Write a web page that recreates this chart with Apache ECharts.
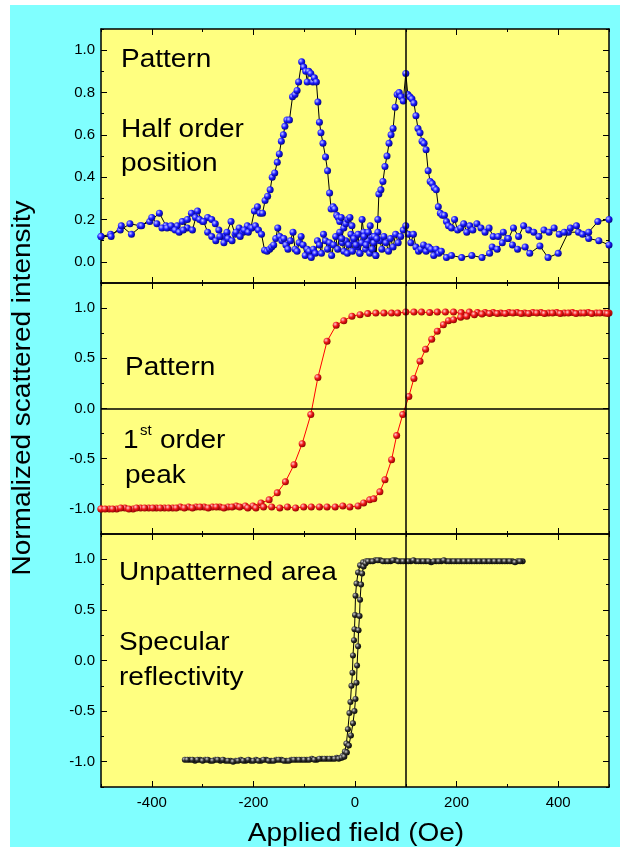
<!DOCTYPE html>
<html><head><meta charset="utf-8">
<script src="https://cdn.jsdelivr.net/npm/echarts@6/dist/echarts.min.js"></script>
<style>
html,body{margin:0;padding:0;background:#fff;}
#bg{position:absolute;left:10px;top:5px;width:610px;height:842px;background:#80ffff;}
#c{position:absolute;left:0;top:0;width:624px;height:847px;}
</style>
</head><body><div id="bg"></div><div id="c"></div>
<script>
// ---------- data ----------
const xTickLabels = [-400, -200, 0, 200, 400];
const yTopTicks = [0, 0.2, 0.4, 0.6, 0.8, 1.0];
const yLoopTicks = [-1.0, -0.5, 0, 0.5, 1.0];

// top panel: half-order position (two field sweeps)
const halfDown = [[-500,0.12],[-481,0.13],[-462,0.15],[-443,0.18],[-423,0.17],[-404,0.19],[-385,0.23],[-372,0.17],[-360,0.16],[-350,0.17],[-340,0.19],[-330,0.16],[-320,0.15],[-310,0.24],[-300,0.19],[-290,0.21],[-282,0.20],[-275,0.18],[-268,0.15],[-260,0.12],[-252,0.14],[-244,0.19],[-236,0.13],[-228,0.16],[-220,0.14],[-212,0.17],[-205,0.16],[-198,0.24],[-192,0.26],[-187,0.23],[-182,0.23],[-177,0.29],[-172,0.31],[-167,0.34],[-163,0.40],[-158,0.42],[-153,0.47],[-149,0.51],[-145,0.57],[-141,0.60],[-138,0.64],[-134,0.67],[-129,0.67],[-123,0.78],[-118,0.79],[-114,0.81],[-111,0.85],[-105,0.945],[-101,0.92],[-97,0.90],[-94,0.85],[-91,0.90],[-87,0.89],[-83,0.85],[-80,0.87],[-76,0.85],[-73,0.755],[-70,0.66],[-67,0.61],[-63,0.56],[-58,0.495],[-54,0.43],[-50,0.325],[-47,0.25],[-43,0.26],[-40,0.25],[-36,0.22],[-33,0.21],[-30,0.19],[-27,0.21],[-25,0.09],[-22,0.05],[-18,0.10],[-15,0.04],[-12,0.08],[-8,0.13],[-5,0.05],[-2,0.10],[2,0.12],[5,0.07],[9,0.04],[13,0.09],[17,0.14],[21,0.06],[25,0.10],[29,0.04],[33,0.12],[37,0.09],[41,0.03],[45,0.14],[49,0.10],[53,0.06],[57,0.12],[61,0.09],[66,0.05],[70,0.11],[75,0.07],[80,0.13],[85,0.09],[90,0.12],[95,0.15],[100,0.17],[105,0.13],[110,0.09],[115,0.13],[120,0.07],[125,0.05],[130,0.06],[135,0.08],[140,0.05],[145,0.07],[150,0.06],[155,0.03],[160,0.06],[165,0.04],[170,0.05],[180,0.02],[190,0.03],[210,0.02],[230,0.03],[250,0.02],[265,0.04],[270,0.07],[280,0.06],[290,0.09],[300,0.11],[310,0.08],[320,0.06],[335,0.07],[344,0.04],[364,0.075],[380,0.02],[400,0.04],[420,0.14],[440,0.14],[460,0.11],[480,0.10],[500,0.08]];
const halfUp = [[-500,0.12],[-480,0.12],[-460,0.17],[-440,0.13],[-420,0.17],[-400,0.21],[-390,0.18],[-380,0.16],[-370,0.16],[-362,0.17],[-354,0.15],[-346,0.14],[-338,0.15],[-330,0.20],[-322,0.23],[-314,0.21],[-306,0.20],[-298,0.19],[-290,0.14],[-282,0.12],[-274,0.10],[-266,0.12],[-258,0.09],[-250,0.11],[-242,0.10],[-234,0.14],[-226,0.12],[-218,0.15],[-210,0.14],[-203,0.16],[-196,0.17],[-190,0.15],[-184,0.13],[-178,0.055],[-173,0.05],[-168,0.06],[-164,0.07],[-160,0.08],[-156,0.11],[-152,0.16],[-148,0.12],[-144,0.10],[-140,0.11],[-136,0.08],[-132,0.06],[-127,0.10],[-122,0.14],[-118,0.06],[-114,0.05],[-110,0.09],[-106,0.12],[-102,0.08],[-98,0.03],[-94,0.06],[-90,0.05],[-86,0.02],[-82,0.06],[-78,0.04],[-74,0.10],[-70,0.08],[-66,0.04],[-62,0.13],[-58,0.10],[-54,0.06],[-50,0.09],[-46,0.03],[-42,0.08],[-38,0.12],[-34,0.06],[-30,0.14],[-26,0.11],[-22,0.16],[-18,0.18],[-14,0.20],[-10,0.21],[-6,0.17],[-2,0.11],[2,0.08],[6,0.13],[10,0.04],[14,0.20],[18,0.12],[22,0.08],[26,0.14],[30,0.17],[34,0.06],[38,0.12],[41,0.03],[43,0.11],[45,0.20],[47,0.32],[51,0.34],[55,0.38],[59,0.45],[63,0.50],[67,0.56],[71,0.60],[75,0.63],[79,0.73],[83,0.79],[87,0.80],[91,0.78],[95,0.76],[100,0.89],[104,0.79],[108,0.78],[112,0.77],[116,0.75],[120,0.69],[124,0.63],[128,0.61],[132,0.57],[136,0.56],[140,0.53],[144,0.43],[148,0.38],[152,0.37],[156,0.35],[160,0.34],[164,0.26],[168,0.23],[172,0.22],[176,0.22],[180,0.19],[184,0.17],[190,0.16],[196,0.20],[202,0.15],[208,0.16],[214,0.18],[220,0.14],[226,0.17],[232,0.15],[240,0.18],[248,0.16],[256,0.14],[264,0.16],[272,0.12],[282,0.12],[292,0.14],[302,0.11],[312,0.16],[322,0.12],[332,0.17],[342,0.15],[352,0.14],[362,0.12],[372,0.15],[382,0.14],[392,0.16],[402,0.13],[412,0.14],[424,0.16],[436,0.17],[448,0.13],[460,0.14],[478,0.19],[500,0.20]];

// middle panel: 1st order peak
const firstDown = [[-500,-1.0],[-484,-1.0],[-469,-1.0],[-453,-0.99],[-437,-1.0],[-422,-0.99],[-406,-0.99],[-391,-0.99],[-375,-0.99],[-359,-0.99],[-344,-0.98],[-328,-0.98],[-313,-0.98],[-297,-0.98],[-281,-0.98],[-266,-0.98],[-250,-0.98],[-234,-0.97],[-216,-0.97],[-201,-0.97],[-185,-0.94],[-169,-0.91],[-153,-0.84],[-137,-0.73],[-120,-0.56],[-104,-0.35],[-87,-0.06],[-73,0.31],[-55,0.67],[-37,0.83],[-22,0.875],[-6,0.92],[10,0.935],[25,0.945],[41,0.95],[57,0.95],[72,0.95],[84,0.95],[100,0.96],[116,0.96],[131,0.96],[147,0.955],[162,0.96],[178,0.96],[194,0.96],[209,0.955],[225,0.96],[241,0.955],[256,0.955],[272,0.955],[287,0.95],[303,0.955],[319,0.955],[334,0.95],[350,0.955],[366,0.955],[381,0.95],[397,0.955],[412,0.95],[428,0.955],[444,0.95],[459,0.955],[475,0.95],[491,0.95],[500,0.95]];
const firstUp = [[-500,-1.0],[-492,-1.0],[-477,-1.0],[-461,-0.99],[-445,-1.0],[-430,-0.99],[-414,-0.99],[-398,-0.99],[-383,-0.99],[-367,-0.99],[-352,-0.99],[-336,-0.99],[-320,-0.99],[-305,-0.98],[-289,-0.99],[-273,-0.98],[-258,-0.99],[-242,-0.98],[-227,-0.98],[-211,-0.99],[-195,-0.99],[-180,-0.98],[-164,-0.98],[-148,-0.99],[-133,-0.98],[-117,-0.99],[-101,-0.98],[-86,-0.98],[-70,-0.98],[-55,-0.98],[-39,-0.98],[-24,-0.97],[-10,-0.98],[6,-0.97],[17,-0.94],[29,-0.91],[37,-0.90],[49,-0.83],[59,-0.71],[72,-0.51],[82,-0.27],[94,-0.06],[106,0.12],[116,0.30],[128,0.47],[139,0.59],[151,0.69],[162,0.77],[174,0.835],[184,0.875],[194,0.885],[208,0.91],[220,0.92],[235,0.935],[250,0.94],[265,0.945],[280,0.945],[296,0.945],[311,0.95],[327,0.945],[342,0.945],[358,0.95],[373,0.945],[389,0.95],[404,0.945],[420,0.95],[435,0.945],[451,0.95],[466,0.945],[482,0.95],[497,0.945]];

// bottom panel: specular reflectivity
const specA = [[-335,-0.98],[-325,-0.98],[-315,-0.99],[-305,-0.98],[-295,-0.98],[-285,-0.99],[-275,-0.98],[-265,-0.99],[-255,-0.99],[-245,-0.99],[-235,-0.99],[-225,-0.98],[-215,-0.99],[-205,-0.99],[-195,-0.98],[-185,-0.99],[-175,-0.98],[-165,-0.99],[-155,-0.98],[-145,-0.98],[-135,-0.99],[-125,-0.98],[-115,-0.98],[-105,-0.98],[-95,-0.98],[-85,-0.97],[-75,-0.98],[-65,-0.97],[-55,-0.97],[-45,-0.97],[-36,-0.96],[-29,-0.96],[-24,-0.94],[-20,-0.90],[-17,-0.82],[-14,-0.68],[-11,-0.52],[-9,-0.41],[-7,-0.25],[-5,-0.12],[-4,0.05],[-2,0.20],[-1,0.31],[0,0.45],[1,0.64],[3,0.76],[6,0.87],[10,0.94],[16,0.97],[22,0.98],[30,0.98],[40,0.99],[50,0.99],[60,0.98],[70,0.98],[80,0.99],[90,0.98],[100,0.98],[110,0.98],[120,0.98],[130,0.98],[140,0.98],[150,0.97],[160,0.98],[170,0.98],[180,0.98],[190,0.98],[200,0.98],[210,0.98],[220,0.98],[230,0.98],[240,0.98],[250,0.98],[260,0.98],[270,0.98],[280,0.98],[290,0.98],[300,0.98],[310,0.98],[320,0.98],[330,0.98]];
const specB = [[-330,-0.98],[-320,-0.98],[-310,-0.98],[-300,-0.99],[-290,-0.98],[-280,-0.99],[-270,-0.98],[-260,-0.98],[-250,-0.99],[-240,-1.0],[-230,-0.99],[-220,-0.99],[-210,-0.98],[-200,-0.99],[-190,-0.99],[-180,-0.98],[-170,-0.99],[-160,-0.99],[-150,-0.98],[-140,-0.99],[-130,-0.99],[-120,-0.98],[-110,-0.98],[-100,-0.98],[-90,-0.98],[-80,-0.98],[-70,-0.97],[-60,-0.97],[-50,-0.97],[-40,-0.97],[-32,-0.97],[-26,-0.96],[-21,-0.95],[-16,-0.91],[-12,-0.84],[-8,-0.74],[-4,-0.62],[-1,-0.50],[1,-0.38],[3,-0.22],[4,-0.05],[6,0.14],[7,0.30],[9,0.44],[10,0.60],[12,0.75],[14,0.86],[17,0.93],[21,0.96],[26,0.98],[35,0.98],[45,0.99],[55,0.98],[65,0.98],[75,0.99],[85,0.98],[95,0.98],[105,0.98],[115,0.99],[125,0.98],[135,0.98],[145,0.98],[155,0.98],[165,0.98],[175,0.99],[185,0.98],[195,0.98],[205,0.98],[215,0.98],[225,0.98],[235,0.98],[245,0.98],[255,0.98],[265,0.98],[275,0.98],[285,0.98],[295,0.98],[305,0.98],[315,0.97],[325,0.98]];

// ---------- layout / style ----------
const FONT = '"Liberation Sans", Arial, Helvetica, sans-serif';
const BLACK = '#000';
const grids = [
  {left:101, top:29, width:508, height:254},
  {left:101, top:283, width:508, height:251},
  {left:101, top:534, width:508, height:253}
];

function ball(c0, c1, c2) {
  return {type:'radial', x:0.35, y:0.35, r:0.75,
    colorStops:[{offset:0,color:c0},{offset:0.45,color:c1},{offset:1,color:c2}]};
}

function makeXAxes(g, showLabels) {
  const base = {gridIndex:g, type:'value', min:-500, max:500, interval:100,
    splitLine:{show:false}};
  const tickStyle = {color:BLACK, width:1};
  const axes = [];
  ['bottom','top'].forEach(pos => {
    axes.push(Object.assign({}, base, {position:pos,
      axisLine:{show:true, onZero:false, lineStyle:{color:BLACK, width:1.5}},
      axisTick:{show:true, inside:true, length:3, lineStyle:tickStyle},
      axisLabel:{show: showLabels && pos==='bottom', color:BLACK, fontSize:15, fontFamily:FONT, margin:8,
        formatter: v => (xTickLabels.indexOf(Math.round(v)) >= 0 ? String(Math.round(v)) : '')}}));
    axes.push(Object.assign({}, base, {position:pos,
      axisLine:{show:false, onZero:false},
      axisTick:{show:true, inside:true, length:6, lineStyle:tickStyle, customValues:xTickLabels},
      axisLabel:{show:false}}));
  });
  return axes;
}

function makeYAxes(g, min, max, interval, majors) {
  const base = {gridIndex:g, type:'value', min:min, max:max, interval:interval,
    splitLine:{show:false}};
  const tickStyle = {color:BLACK, width:1};
  const axes = [];
  ['left','right'].forEach(pos => {
    axes.push(Object.assign({}, base, {position:pos,
      axisLine:{show:true, onZero:false, lineStyle:{color:BLACK, width:1.5}},
      axisTick:{show:true, inside:true, length:3, lineStyle:tickStyle},
      axisLabel:{show: pos==='left', color:BLACK, fontSize:15, fontFamily:FONT, margin:6,
        formatter: v => {
          for (const m of majors) { if (Math.abs(v - m) < 1e-6) return m.toFixed(1); }
          return '';
        }}}));
    axes.push(Object.assign({}, base, {position:pos,
      axisLine:{show:false, onZero:false},
      axisTick:{show:true, inside:true, length:6, lineStyle:tickStyle, customValues:majors},
      axisLabel:{show:false}}));
  });
  return axes;
}

const xAxis = [].concat(makeXAxes(0,false), makeXAxes(1,false), makeXAxes(2,true));
const yAxis = [].concat(
  makeYAxes(0, -0.1, 1.1, 0.1, yTopTicks),
  makeYAxes(1, -1.25, 1.25, 0.25, yLoopTicks),
  makeYAxes(2, -1.25, 1.25, 0.25, yLoopTicks));

const refLine = (extra) => ({silent:true, symbol:['none','none'], label:{show:false},
  lineStyle:{color:BLACK, width:1.5, type:'solid'}, animation:false,
  data:[{xAxis:100}].concat(extra || [])});

function sc(g, data, marker, lineColor, size, ml) {
  const s = {type:'line', xAxisIndex:4*g, yAxisIndex:4*g, data:data,
    symbol:'circle', symbolSize:size, showSymbol:true,
    itemStyle:{color:marker, borderWidth:0},
    lineStyle:{color:lineColor, width:1},
    emphasis:{disabled:true}, animation:false, z:3};
  if (ml) s.markLine = ml;
  return s;
}

const blue = ball('#c8ccff', '#1c1cff', '#00006a');
const red = ball('#ffd0d0', '#f01818', '#7a0000');
const blk = ball('#d0d0d0', '#303030', '#000000');

const series = [
  sc(0, halfDown, blue, '#000', 7, refLine()),
  sc(0, halfUp, blue, '#000', 7),
  sc(1, firstDown, red, '#ff0000', 7, refLine([{yAxis:0}])),
  sc(1, firstUp, red, '#ff0000', 7),
  sc(2, specA, blk, '#000', 6, refLine()),
  sc(2, specB, blk, '#000', 6)
];

const SY = 0.93;
function txt(x, y, s, size) {
  return {type:'text', x:x, y:y, scaleY:SY, silent:true, z:10,
    style:{text:s, fill:BLACK, font:(size||28)+'px '+FONT, textAlign:'left', textVerticalAlign:'middle'}};
}

const graphic = [
  txt(121, 60, 'Pattern'),
  txt(121, 130, 'Half order'),
  txt(121, 164, 'position'),
  txt(125, 368, 'Pattern'),
  txt(123, 441, '1'),
  txt(140, 431, 'st', 15),
  txt(160, 441, 'order'),
  txt(125, 476, 'peak'),
  txt(119, 573, 'Unpatterned area'),
  txt(119, 643, 'Specular'),
  txt(119, 678, 'reflectivity'),
  {type:'text', x:23, y:388, rotation:Math.PI/2, scaleY:SY, silent:true, z:10,
    style:{text:'Normalized scattered intensity', fill:BLACK, font:'28px '+FONT,
      textAlign:'center', textVerticalAlign:'middle'}},
  {type:'text', x:356, y:834, scaleY:SY, silent:true, z:10,
    style:{text:'Applied field (Oe)', fill:BLACK, font:'28px '+FONT,
      textAlign:'center', textVerticalAlign:'middle'}}
];

const chart = echarts.init(document.getElementById('c'), null, {renderer:'canvas'});
chart.setOption({
  backgroundColor:'transparent',
  animation:false,
  grid: grids.map(g => Object.assign({show:true, backgroundColor:'#ffff80', borderWidth:0}, g)),
  xAxis: xAxis,
  yAxis: yAxis,
  series: series,
  graphic: graphic
});
</script></body></html>
